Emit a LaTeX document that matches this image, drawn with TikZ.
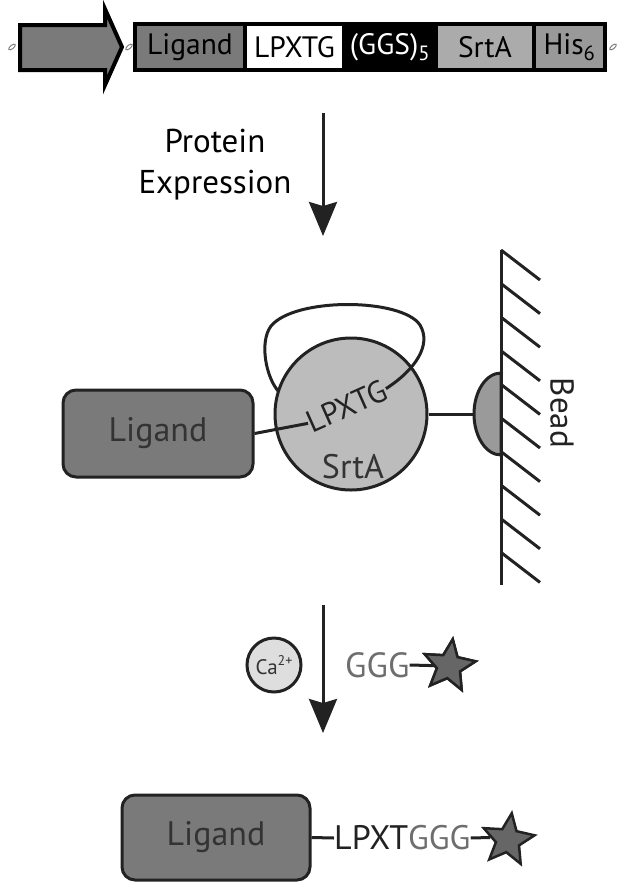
\documentclass[tikz,border=0pt]{standalone}
\usepackage{fontspec}
\setmainfont{PT Sans}
\usetikzlibrary{arrows.meta,shapes.geometric}
\definecolor{dk}{HTML}{222222}
\definecolor{boxg}{HTML}{7A7A7A}
\definecolor{txtg}{HTML}{333333}
\definecolor{circg}{HTML}{BCBCBC}
\definecolor{beadg}{HTML}{9A9A9A}
\definecolor{starg}{HTML}{666666}
\definecolor{cag}{HTML}{DEDEDE}
\definecolor{ggg}{HTML}{6E6E6E}
\definecolor{srtg}{HTML}{ABABAB}
\definecolor{hisg}{HTML}{999999}
\begin{document}
\begin{tikzpicture}[x=1pt,y=-1pt,
  seg/.style={draw=black,line width=3.5pt,minimum height=46pt,inner sep=0pt,outer sep=0pt,font=\fontsize{29.5}{33}\selectfont},
  link/.style={draw=gray,line width=1pt,ellipse,minimum width=8pt,minimum height=3.5pt,inner sep=0pt,rotate=40},
  ligbox/.style={draw=dk,fill=boxg,line width=3pt,rounded corners=13pt,inner sep=0pt,text=txtg,font=\fontsize{34}{39}\selectfont},
  conn/.style={draw=dk,line width=3pt},
  bigarrow/.style={draw=dk,line width=3pt,-{Stealth[length=34pt,width=28pt,inset=4pt]}},
  starnode/.style={star,star points=5,star point ratio=2.2,minimum size=54pt,inner sep=0pt,draw=dk,fill=starg,line width=2.5pt},
  lbl/.style={font=\fontsize{33}{39}\selectfont,inner sep=0pt}
]
\useasboundingbox (0,0) rectangle (629,895);
% ---------- gene construct ----------
\node[link] (l1) at (12,47) {};
\draw[fill=boxg,draw=black,line width=4pt,line join=miter]
  (20,25) -- (105,25) -- (105,9) -- (122,47) -- (105,85) -- (105,70) -- (20,70) -- cycle;
\node[link] (l2) at (129,47) {};
\node[seg,fill=boxg,minimum width=110pt] (sLig) at (190,47) {Ligand};
\node[seg,fill=white,minimum width=99pt] (sLp) at (294.5,47) {LPXTG};
\node[seg,fill=black,text=white,minimum width=92pt] (sG) at (390,47) {(GGS)\textsubscript{5}};
\node[seg,fill=srtg,minimum width=98pt] (sS) at (485,47) {SrtA};
\node[seg,fill=hisg,minimum width=71pt] (sH) at (569.5,47) {His\textsubscript{6}};
\node[link] (l3) at (613,47) {};
% ---------- first arrow ----------
\coordinate (a1s) at (323,113);
\coordinate (a1e) at (323,236);
\draw[bigarrow] (a1s) -- (a1e);
\node[lbl,align=center,text=black] (pe) at (215,165) {Protein\\[2pt]Expression};
% ---------- immobilised complex ----------
\node[ligbox,minimum width=190pt,minimum height=87pt] (lig1) at (158,433.5) {Ligand};
\node[circle,draw=dk,fill=circg,line width=3pt,minimum size=152pt,inner sep=0pt] (srta) at (351,414) {};
\node[lbl,text=txtg,font=\fontsize{34}{39}\selectfont] (srtt) at (353,467) {SrtA};
\node[lbl,text=dk,rotate=24,font=\fontsize{31}{36}\selectfont] (lpx) at (347,406) {LPXTG};
\draw[conn] (lig1.east) -- (lpx.west);
\coordinate (lpEnd) at (279,392);
\draw[conn] (lpx.east) .. controls (415,370) and (432,345) .. (420,325)
  .. controls (402,298) and (295,297) .. (271,326)
  .. controls (259,342) and (266,378) .. (lpEnd);
% bead
\coordinate (beadL) at (474,414);
\draw[conn,fill=beadg] (501,373) arc[start angle=90,end angle=270,x radius=27pt,y radius=41pt] -- cycle;
\draw[conn] (srta.east) -- (beadL);
\coordinate (wT) at (501,250);
\coordinate (wB) at (501,585);
\draw[conn] (wT) -- (wB);
\foreach \k in {0,...,9} {
  \draw[conn] (501,250+33.6*\k) -- ++(39,30);
}
\node[lbl,rotate=-90,text=dk] (bead) at (562,413) {Bead};
% ---------- second arrow ----------
\coordinate (a2s) at (323,605);
\coordinate (a2e) at (323,733);
\draw[bigarrow] (a2s) -- (a2e);
\node[circle,draw=dk,fill=cag,line width=3pt,minimum size=54pt,inner sep=0pt,text=txtg,font=\fontsize{21}{24}\selectfont] (ca) at (274,665) {Ca\raisebox{0.42em}{\fontsize{14}{14}\selectfont 2+}};
\node[lbl,text=ggg,anchor=west,font=\fontsize{35}{40}\selectfont] (g1) at (345,665) {GGG};
\node[starnode,rotate=-8] (st1) at (449,666) {};
\draw[conn] (g1.east) -- (st1.center);
\node[starnode,rotate=-8] (st1b) at (449,666) {};
% ---------- product ----------
\node[ligbox,minimum width=188pt,minimum height=85pt] (lig2) at (216,837.5) {Ligand};
\node[lbl,text=dk,anchor=west,font=\fontsize{34}{39}\selectfont] (seq) at (334,838) {LPXT\textcolor{ggg}{GGG}};
\node[starnode,rotate=-8] (st2) at (508,840) {};
\draw[conn] (lig2.east) -- (seq.west);
\draw[conn] (seq.east) -- (st2.west);
\end{tikzpicture}
\end{document}
